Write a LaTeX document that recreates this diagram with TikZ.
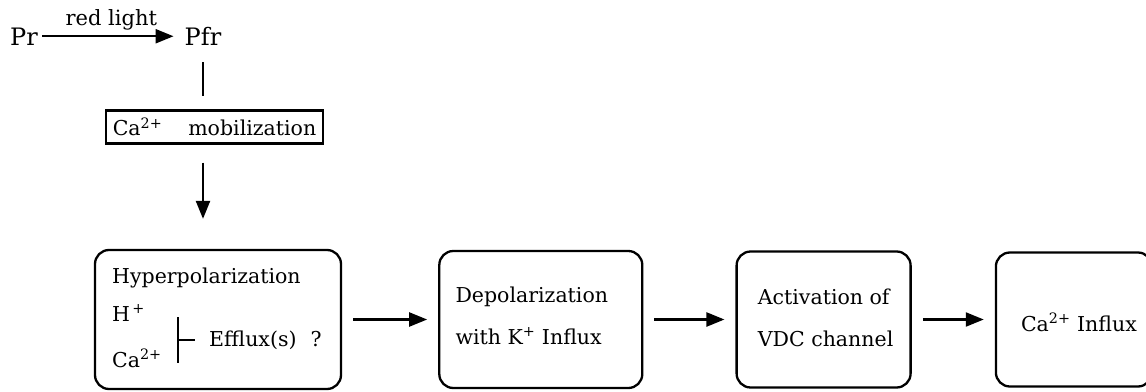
\documentclass[tikz,border=0pt]{standalone}
\usepackage{fontspec}
\setmainfont{DejaVu Serif}
\usetikzlibrary{positioning,arrows.meta}

\begin{document}
\begin{tikzpicture}
[
x=1pt, y=-1pt,
box-a/.style={draw, line width=2.3pt, rounded corners=14pt, inner sep=0pt},
box-b/.style={draw, line width=2.3pt, minimum width=217pt, minimum height=33pt, inner sep=0pt},
text-a/.style={font=\fontsize{20.5}{42}\selectfont, inner sep=0pt},
text-b/.style={font=\fontsize{24}{28}\selectfont, inner sep=0pt},
text-c/.style={font=\fontsize{21}{24}\selectfont, inner sep=0pt},
line-a/.style={line width=2.3pt},
arr-a/.style={line width=2.3pt, -{Triangle[length=18pt,width=14pt]}},
arr-b/.style={arr-a, shorten <=11pt, shorten >=11pt}
]
\useasboundingbox (0,0) rectangle (1146,391);

\node (pr)     [text-b, anchor=base west] at (10,45)  {Pr};
\node (pfr)    [text-b, anchor=base]      at (203,45) {Pfr};
\draw [arr-a, shorten <=4pt, shorten >=11pt] (pr.east) -- node (light) [text-c, above=5pt] {red light} (pr.east -| pfr.west);

\node (mob)    [box-b, text-a] at (214.5,127) {Ca\textsuperscript{2+}\hspace{26pt}mobilization};
\draw [line-a, shorten <=17pt, shorten >=13pt] (pfr.south) -- (pfr.south |- mob.north);

\node (hyp)    [box-a, minimum width=246pt, minimum height=139pt] at (218,319.5) {};
\node (dep)    [box-a, minimum width=203pt, minimum height=137pt, right=96pt of hyp] {};
\node (act)    [box-a, minimum width=174pt, minimum height=136pt, right=92pt of dep] {};
\node (cai)    [box-a, minimum width=156pt, minimum height=134pt, right=83pt of act] {};

\draw [arr-a, shorten <=18pt, shorten >=30pt] (mob.south -| pfr) -- (hyp.north -| pfr);

% inside the first box
\node (hyp-title) [text-a, anchor=base west] at (112,283) {Hyperpolarization};
\node (hyp-h)     [text-a, anchor=base west] at (112,321) {H\textsuperscript{\,+}};
\node (hyp-ca)    [text-a, anchor=base west] at (112,367) {Ca\textsuperscript{2+}};
\node (hyp-eff)   [text-a, anchor=base west] at (209,346) {Efflux(s)\hspace{14pt}?};
\coordinate (bar-top) at (178,317);
\coordinate (bar-bot) at (178,363);
\draw [line-a] (bar-top) -- (bar-bot);
\draw [line-a, shorten >=14pt] (bar-top |- hyp-eff.west) -- (hyp-eff.west);

\node (dep-text) [text-a, align=left, yshift=4pt, xshift=-9pt] at (dep) {Depolarization\\with K\textsuperscript{+} Influx};
\node (act-text) [text-a, align=left, yshift=2pt, xshift=2pt] at (act) {Activation of\\VDC channel};
\node (cai-text) [text-a, yshift=-3pt, xshift=5pt] at (cai) {Ca\textsuperscript{2+} Influx};

\draw [arr-b] (hyp) -- (dep);
\draw [arr-b] (dep) -- (act);
\draw [arr-b] (act) -- (cai);

\end{tikzpicture}
\end{document}
